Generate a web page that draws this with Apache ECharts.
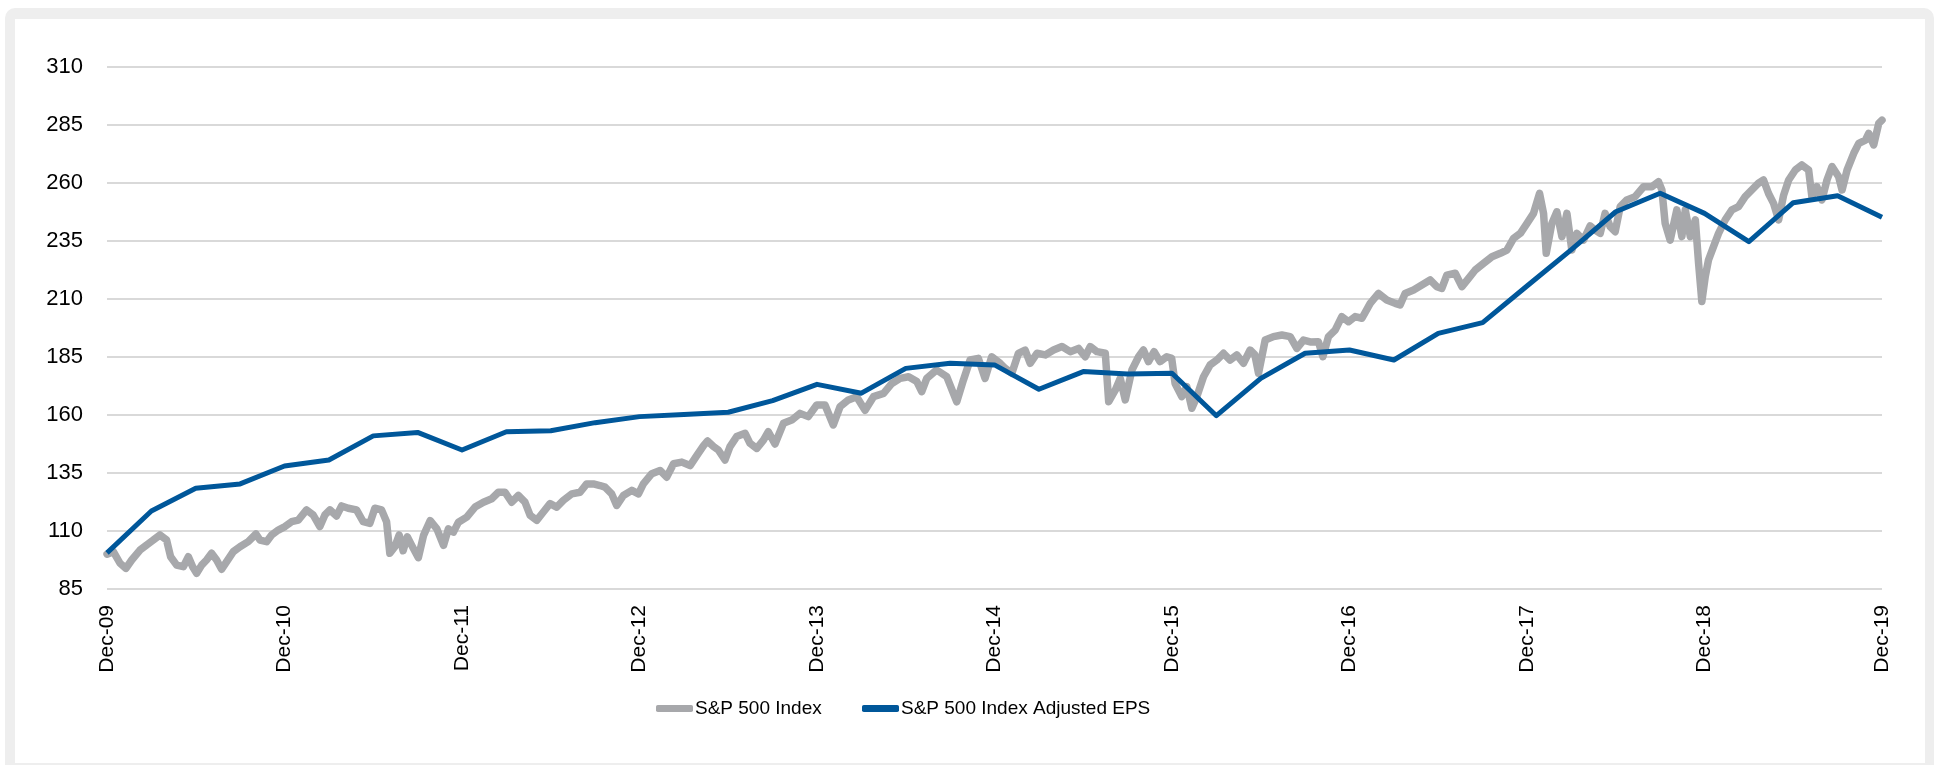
<!DOCTYPE html>
<html>
<head>
<meta charset="utf-8">
<script src="https://cdn.jsdelivr.net/npm/echarts@6/dist/echarts.min.js"></script>
<style>
  html, body { margin: 0; padding: 0; background: #fff; }
  body { width: 1939px; height: 765px; position: relative; overflow: hidden; }
  .frame { position: absolute; left: 5px; top: 8px; width: 1929px; height: 790px; background: #eeeeee; border-radius: 10px; }
  #chart { position: absolute; left: 15px; top: 19px; width: 1910px; height: 744px; background: #fff; }
</style>
</head>
<body>
<div class="frame"></div>
<div id="chart"></div>
<script>
// x axis: months since Dec-09, one label per December
const tickLabels = ['Dec-09', 'Dec-10', 'Dec-11', 'Dec-12', 'Dec-13', 'Dec-14', 'Dec-15', 'Dec-16', 'Dec-17', 'Dec-18', 'Dec-19']

// S&P 500 Index, rebased to 100 at Dec-09
const indexMonths = [
  0, 0.43, 0.88, 1.28, 1.67, 2.23, 2.68, 3.13, 3.58, 4.03, 4.3, 4.71, 5.16, 5.5, 5.79, 6.06, 6.4, 6.73, 7.07, 7.41,
  7.75, 8.09, 8.54, 8.99, 9.55, 10.07, 10.34, 10.79, 11.13, 11.58, 12.03, 12.48, 12.93, 13.49, 13.94, 14.39, 14.73, 15.07, 15.52, 15.86,
  16.31, 16.87, 17.32, 17.77, 18.11, 18.56, 18.9, 19.12, 19.46, 19.75, 20.02, 20.3, 20.6, 21.05, 21.4, 21.85, 22.3, 22.75, 23.08, 23.42,
  23.76, 24.32, 24.88, 25.45, 26.01, 26.46, 26.91, 27.36, 27.81, 28.26, 28.6, 29.05, 29.5, 29.95, 30.4, 30.85, 31.42, 31.98, 32.43, 32.88,
  33.33, 33.67, 34.12, 34.46, 34.91, 35.48, 35.93, 36.26, 36.83, 37.39, 37.84, 38.3, 38.86, 39.42, 39.87, 40.33, 40.6, 41, 41.33, 41.78,
  42.12, 42.57, 43.14, 43.47, 43.93, 44.38, 44.71, 45.16, 45.73, 46.29, 46.85, 47.41, 47.98, 48.54, 49.1, 49.56, 50.12, 50.68, 51.25, 51.82,
  52.5, 53.06, 53.62, 54.19, 54.75, 55.08, 55.42, 56.09, 56.77, 57.45, 57.9, 58.35, 58.91, 59.36, 59.81, 60.38, 60.72, 61.17, 61.62, 62.07,
  62.41, 62.87, 63.43, 63.99, 64.56, 65.12, 65.68, 66.13, 66.47, 66.93, 67.49, 67.72, 68.17, 68.5, 68.84, 69.29, 69.74, 70.07, 70.41, 70.79,
  71.19, 71.64, 71.98, 72.21, 72.66, 73, 73.34, 73.68, 74.13, 74.58, 75.03, 75.48, 75.93, 76.38, 76.83, 77.28, 77.6, 77.85, 78.3, 78.86,
  79.43, 79.99, 80.44, 80.89, 81.34, 81.9, 82.2, 82.58, 83.03, 83.48, 83.93, 84.38, 84.84, 85.4, 85.96, 86.52, 87.09, 87.42, 87.76, 88.33,
  88.89, 89.45, 89.9, 90.24, 90.58, 91.15, 91.6, 92.05, 92.5, 93.07, 93.63, 94.19, 94.64, 95.1, 95.55, 96, 96.44, 96.85, 97.12, 97.3,
  97.68, 98.02, 98.36, 98.7, 99.03, 99.37, 99.82, 100.27, 100.61, 100.95, 101.28, 101.62, 101.96, 102.3, 102.75, 103.31, 103.88, 104.44, 104.89, 105.12,
  105.34, 105.68, 106.13, 106.47, 106.7, 107.04, 107.38, 107.6, 107.82, 108.05, 108.27, 108.61, 108.95, 109.4, 109.85, 110.3, 110.75, 111.2, 111.65, 111.99,
  112.33, 112.67, 113.01, 113.35, 113.69, 114.14, 114.58, 115.04, 115.26, 115.6, 115.94, 116.28, 116.62, 117.07, 117.3, 117.64, 118.09, 118.43, 118.88, 119.1,
  119.44, 119.78, 120
]
const indexValues = [
  100, 101.1, 96.1, 93.9, 97.5, 101.8, 104.0, 106.1, 108.3, 106.1, 98.9, 95.3, 94.6, 98.9, 94.6, 91.8, 95.3, 97.5, 100.4, 97.5,
  93.5, 96.8, 101.1, 103.2, 105.4, 108.7, 106.1, 105.4, 108.3, 110.4, 111.9, 114.0, 114.7, 119.1, 116.9, 111.9, 116.9, 119.1, 116.5, 120.8,
  119.8, 119.1, 114.0, 113.3, 119.8, 119.1, 114.0, 100.4, 103.2, 108.3, 101.5, 107.5, 103.8, 98.5, 108.1, 114.5, 110.9, 103.8, 110.9, 109.5,
  113.8, 116.0, 120.3, 122.4, 123.9, 126.7, 126.7, 122.4, 125.3, 122.4, 116.8, 114.6, 118.2, 121.8, 120.3, 123.2, 126.0, 126.7, 130.3, 130.3,
  129.6, 128.9, 126.0, 121.0, 125.3, 127.5, 126.0, 130.3, 134.7, 136.1, 133.2, 139.0, 139.7, 138.2, 142.5, 146.8, 148.8, 146.4, 144.9, 140.6,
  146.4, 150.7, 152.1, 147.8, 145.6, 149.2, 152.8, 147.5, 156.4, 157.8, 160.7, 159.3, 164.3, 164.3, 155.7, 163.6, 166.5, 167.9, 162.0, 167.9,
  169.3, 173.6, 175.8, 176.5, 174.4, 170.1, 175.8, 179.4, 176.5, 165.7, 175.1, 183.7, 184.4, 175.8, 185.1, 182.3, 180.1, 178.0, 186.6, 188.0,
  182.3, 186.6, 185.9, 188.0, 189.5, 187.3, 188.7, 185.1, 189.5, 187.3, 186.6, 165.7, 170.8, 175.8, 166.5, 179.4, 185.1, 188.0, 183.0, 187.3,
  183.0, 185.1, 184.4, 173.6, 167.9, 172.2, 162.9, 167.9, 176.5, 181.6, 183.7, 186.6, 183.7, 185.9, 182.3, 188.0, 186.0, 178.0, 192.3, 193.8,
  194.5, 193.8, 188.7, 192.3, 191.5, 191.6, 185.1, 193.8, 196.6, 202.4, 200.2, 202.4, 201.7, 208.1, 212.4, 209.6, 208.1, 207.4, 212.4, 213.9,
  216.0, 218.2, 215.3, 214.6, 220.3, 221.1, 215.3, 218.9, 222.5, 225.4, 228.2, 229.7, 231.1, 236.2, 238.3, 242.6, 246.9, 255.5, 246.9, 229.7,
  242.6, 247.6, 236.9, 246.9, 231.1, 238.3, 235.4, 241.5, 239.7, 238.3, 246.9, 241.2, 239.0, 249.8, 252.7, 254.1, 258.4, 258.4, 260.6, 257.0,
  242.6, 235.4, 248.4, 236.9, 248.4, 236.9, 244.1, 225.4, 208.9, 219.6, 226.8, 232.6, 238.3, 244.1, 248.4, 249.8, 254.1, 257.0, 259.9, 261.3,
  255.5, 251.2, 244.1, 254.8, 261.3, 265.6, 267.8, 265.6, 254.1, 258.4, 252.7, 261.3, 267.1, 262.7, 257.0, 265.6, 272.8, 277.1, 278.5, 281.4,
  276.4, 285.7, 287.1
]

// S&P 500 Index Adjusted EPS, quarterly, rebased
const epsMonths = [0, 3, 6, 9, 12, 15, 18, 21, 24, 27, 30, 33, 36, 39, 42, 45, 48, 51, 54, 57, 60,
  63, 66, 69, 72, 75, 78, 81, 84, 87, 90, 93, 96, 99, 102, 105, 108, 111, 114, 117, 120]
const epsValues = [100.6, 118.6, 128.4, 130.3, 138.0, 140.6, 151.0, 152.5, 144.9, 152.8, 153.2, 156.7, 159.3, 160.2, 161.2, 166.2, 173.2, 169.4, 180.1, 182.3, 181.6,
  171.1, 178.7, 177.7, 178.0, 159.7, 175.8, 186.6, 188.0, 183.7, 195.2, 199.8, 215.6, 231.3, 247.6, 255.6, 246.9, 234.7, 251.5, 254.5, 245.2]

const GRAY = '#a7a8ab'
const BLUE = '#00579a'
const LABEL_FONT = '"Liberation Sans", Arial, sans-serif'
const LEGEND_FONT = '"Liberation Sans Narrow", "Liberation Sans", Arial, sans-serif'

const chart = echarts.init(document.getElementById('chart'))

const legendBase = {
  orient: 'horizontal',
  top: 675,
  icon: 'roundRect',
  itemWidth: 37,
  itemHeight: 7,
  itemGap: 0,
  textStyle: { color: '#000', fontSize: 19, fontFamily: LEGEND_FONT, padding: [0, 0, 0, -3] }
}

chart.setOption({
  animation: false,
  grid: { left: 92, top: 48, width: 1775, height: 522, containLabel: false },
  legend: [
    Object.assign({}, legendBase, { left: 636, data: ['S&P 500 Index'] }),
    Object.assign({}, legendBase, { left: 842, data: ['S&P 500 Index Adjusted EPS'] })
  ],
  xAxis: {
    type: 'value',
    min: 0,
    max: 120,
    interval: 12,
    axisLine: { show: false },
    axisTick: { show: false },
    splitLine: { show: false },
    axisLabel: {
      rotate: 90,
      margin: 16,
      color: '#000',
      fontSize: 21,
      fontFamily: LABEL_FONT,
      formatter: v => tickLabels[Math.round(v / 12)] || ''
    }
  },
  yAxis: {
    type: 'value',
    min: 85,
    max: 310,
    interval: 25,
    axisLine: { show: false },
    axisTick: { show: false },
    splitLine: { lineStyle: { color: '#d9d9d9', width: 2 } },
    axisLabel: { margin: 24, color: '#000', fontSize: 22, fontFamily: LABEL_FONT }
  },
  series: [
    {
      name: 'S&P 500 Index',
      type: 'line',
      symbol: 'none',
      color: GRAY,
      lineStyle: { color: GRAY, width: 7.5, cap: 'round', join: 'round' },
      data: indexMonths.map((m, i) => [m, indexValues[i]])
    },
    {
      name: 'S&P 500 Index Adjusted EPS',
      type: 'line',
      symbol: 'none',
      color: BLUE,
      lineStyle: { color: BLUE, width: 5, join: 'round' },
      data: epsMonths.map((m, i) => [m, epsValues[i]])
    }
  ]
})
</script>
</body>
</html>
